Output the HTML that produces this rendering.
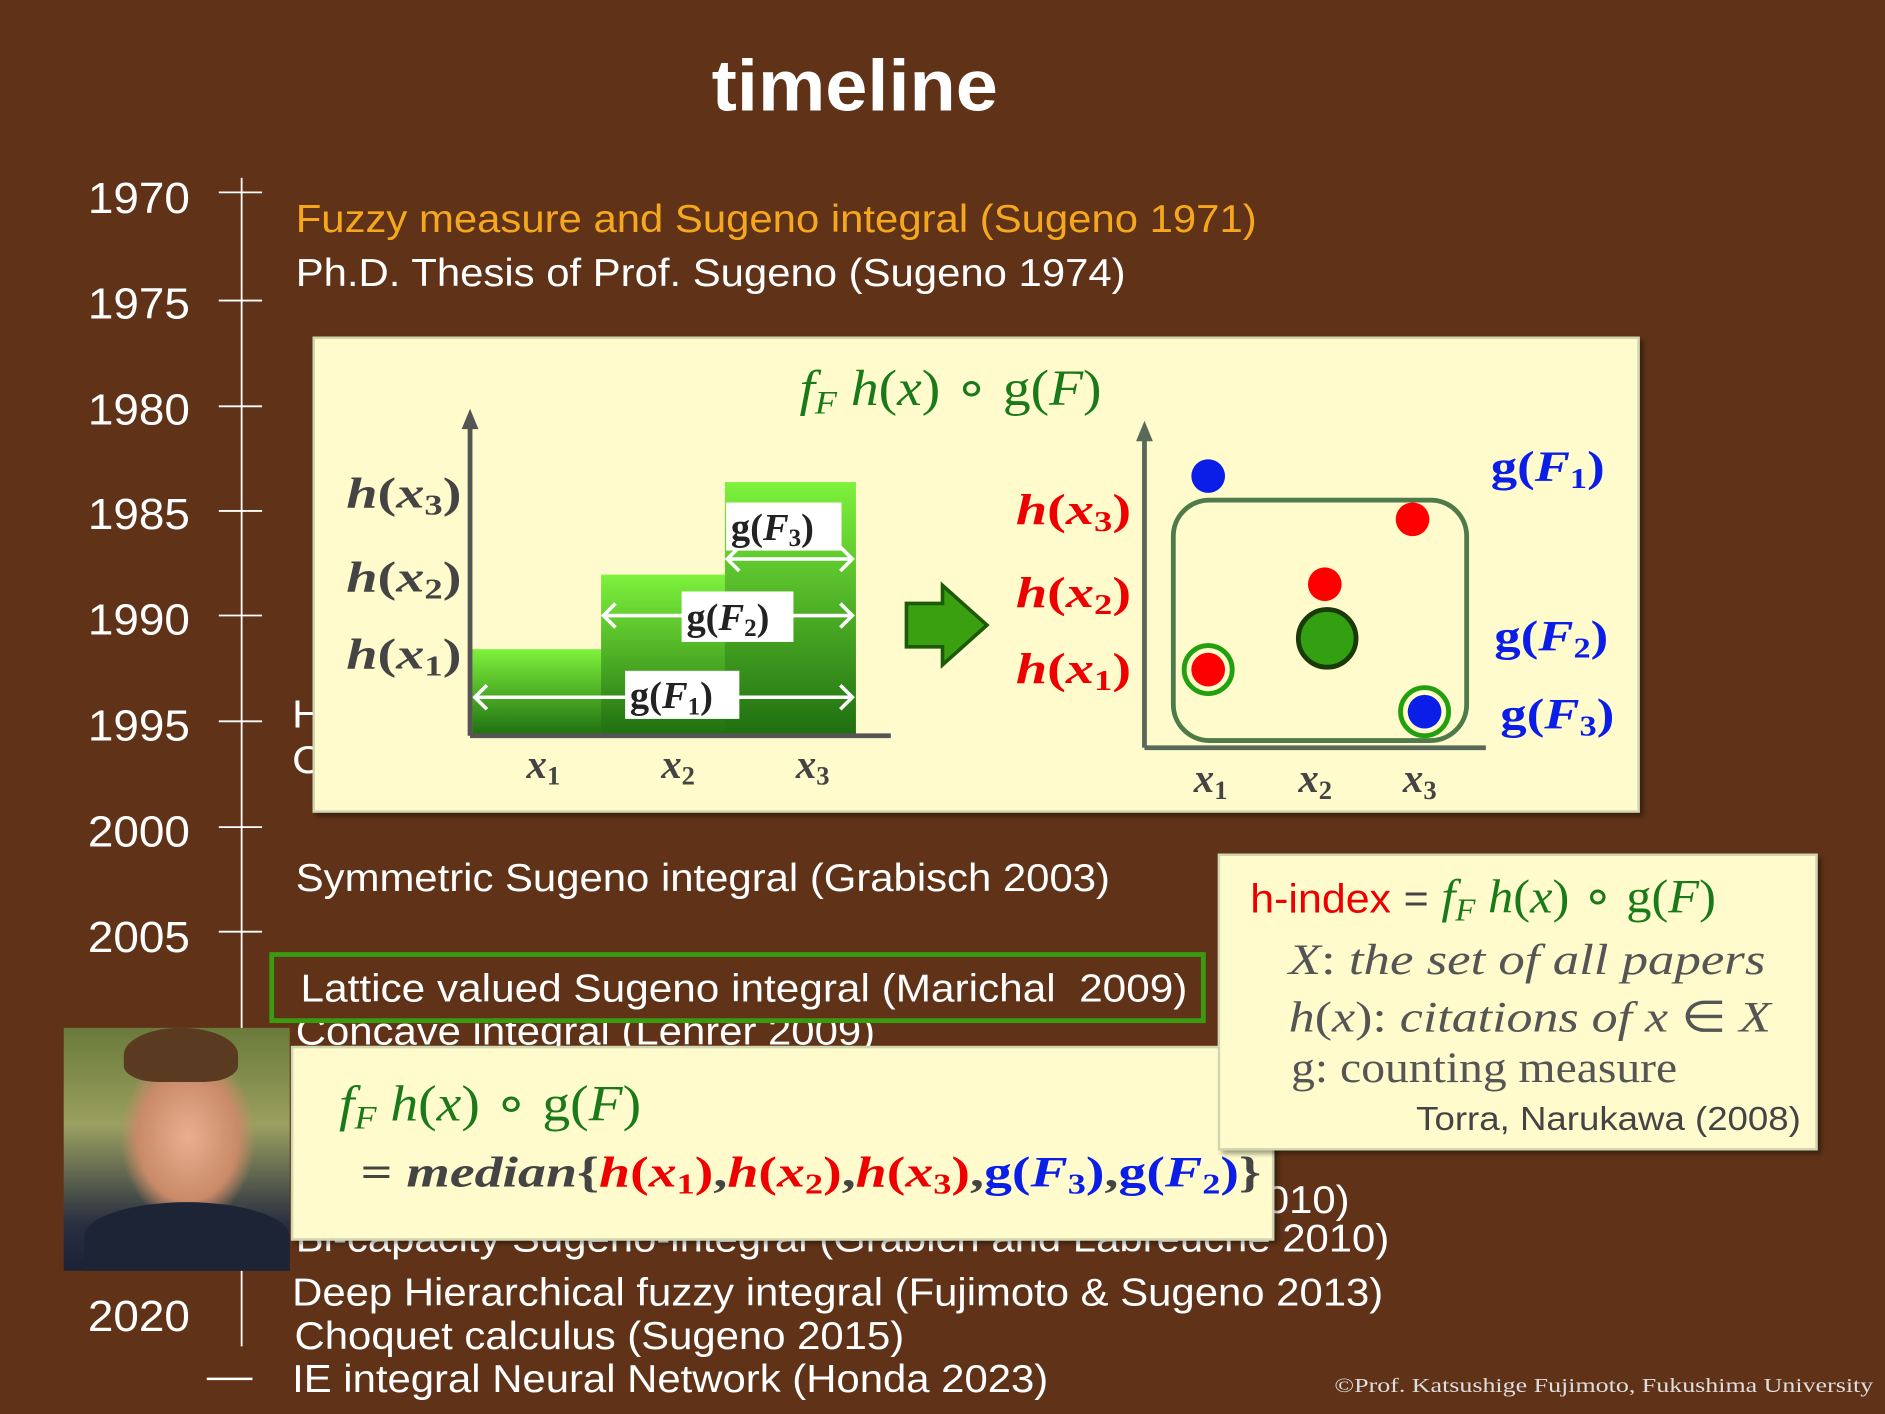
<!DOCTYPE html>
<html><head><meta charset="utf-8"><style>
html,body{margin:0;padding:0;background:#603318;}
body{width:1885px;height:1414px;overflow:hidden;position:relative;}
#s{position:absolute;left:0;top:0;width:1568px;height:1176px;transform:scale(1.20217);transform-origin:0 0;font-family:"Liberation Sans",sans-serif;}
.t{position:absolute;white-space:nowrap;color:#fff;font-size:32px;line-height:1;transform:scaleX(1.088);transform-origin:0 0;}
.y{position:absolute;color:#fff;font-size:36px;width:100px;text-align:right;left:58px;line-height:1;transform:scaleX(1.06);transform-origin:100% 0;}
.box{position:absolute;background:#fffbcc;border:2px solid #cfd6b0;box-shadow:3px 3px 4px rgba(0,0,0,.4);}
.m{position:absolute;white-space:nowrap;font-family:"Liberation Serif",serif;line-height:1;transform-origin:0 0;}
i{font-style:italic}
sub{font-size:65%;vertical-align:-0.25em}
</style></head><body><div id="s">
<div class="t" style="left:592px;top:42px;font-size:60px;font-weight:bold;transform:scaleX(1.05)">timeline</div>
<svg width="1568" height="1176" style="position:absolute;left:0;top:0">
<g stroke="#fff" stroke-width="1.5">
<line x1="201" y1="148" x2="201" y2="1120"/>
<line x1="182" y1="160" x2="218" y2="160"/><line x1="182" y1="250" x2="218" y2="250"/>
<line x1="182" y1="338" x2="218" y2="338"/><line x1="182" y1="425" x2="218" y2="425"/>
<line x1="182" y1="512" x2="218" y2="512"/><line x1="182" y1="600" x2="218" y2="600"/>
<line x1="182" y1="688" x2="218" y2="688"/><line x1="182" y1="775" x2="218" y2="775"/>
<line x1="172" y1="1147" x2="210" y2="1147" stroke-width="2"/>
</g></svg>
<div class="y" style="top:147px">1970</div><div class="y" style="top:235px">1975</div>
<div class="y" style="top:323px">1980</div><div class="y" style="top:410px">1985</div>
<div class="y" style="top:498px">1990</div><div class="y" style="top:586px">1995</div>
<div class="y" style="top:674px">2000</div><div class="y" style="top:762px">2005</div>
<div class="y" style="top:1077px">2020</div>
<div class="t" style="left:246px;top:166px;color:#f5a81e">Fuzzy measure and Sugeno integral (Sugeno 1971)</div>
<div class="t" style="left:246px;top:211px">Ph.D. Thesis of Prof. Sugeno (Sugeno 1974)</div>
<div class="t" style="left:243px;top:578px">H</div><div class="t" style="left:243px;top:616px">C</div>
<div class="t" style="left:246px;top:714px">Symmetric Sugeno integral (Grabisch 2003)</div>
<div class="t" style="left:246px;top:842px">Concave integral (Lehrer 2009)</div>
<div class="t" style="left:1022px;top:982px">(2010)</div>
<div class="t" style="left:246px;top:1014px">Bi-capacity Sugeno-integral  (Grabich and Labreuche 2010)</div>
<div class="t" style="left:243px;top:1059px">Deep Hierarchical fuzzy integral (Fujimoto &amp; Sugeno 2013)</div>
<div class="t" style="left:245px;top:1095px">Choquet calculus (Sugeno 2015)</div>
<div class="t" style="left:243px;top:1131px">IE integral Neural Network (Honda 2023)</div>
<div style="position:absolute;left:224px;top:792px;width:771px;height:51px;border:4px solid #3a9a10;background:#603318"></div>
<div class="t" style="left:250px;top:806px;transform:scaleX(1.1)">Lattice valued Sugeno integral (Marichal&nbsp; 2009)</div>
<div class="t" style="left:1110px;top:1144px;font-family:'Liberation Serif',serif;font-size:17px;color:#ddd;transform:scaleX(1.27)">©Prof. Katsushige Fujimoto, Fukushima University</div>

<div class="box" style="left:260px;top:280px;width:1100px;height:392px"></div>
<svg width="1568" height="1176" style="position:absolute;left:0;top:0">
<defs><linearGradient id="gg" x1="0" y1="0" x2="0" y2="1"><stop offset="0" stop-color="#7ef23c"/><stop offset="1" stop-color="#1f6e10"/></linearGradient></defs>
<rect x="393" y="540" width="108" height="72" fill="url(#gg)"/>
<rect x="500" y="478" width="105" height="134" fill="url(#gg)"/>
<rect x="603" y="401" width="109" height="211" fill="url(#gg)"/>
<g stroke="#fff" stroke-width="3" fill="none">
<path d="M395,580 H709 M405,570 L395,580 L405,590 M699,570 L709,580 L699,590"/>
<path d="M502,512 H709 M512,502 L502,512 L512,522 M699,502 L709,512 L699,522"/>
<path d="M605,465 H709 M615,455 L605,465 L615,475 M699,455 L709,465 L699,475"/>
</g>
<rect x="520" y="558" width="95" height="40" fill="#fff"/>
<rect x="567" y="492" width="93" height="42" fill="#fff"/>
<rect x="604" y="418" width="96" height="40" fill="#fff"/>
<g stroke="#555" stroke-width="4" fill="#555"><line x1="391" y1="612" x2="391" y2="355"/><line x1="391" y1="612" x2="741" y2="612"/></g>
<path d="M384,357 L391,340 L398,357Z" fill="#555"/>
<path d="M754,502 H784 V487 L821,520 L784,553 V538 H754Z" fill="#3aa010" stroke="#1a5a0a" stroke-width="3"/>
<g stroke="#5a6a5a" stroke-width="4"><line x1="952" y1="622" x2="952" y2="365"/><line x1="952" y1="622" x2="1236" y2="622"/></g>
<path d="M945,367 L952,350 L959,367Z" fill="#5a6a5a"/>
<rect x="976" y="416" width="244" height="200" rx="30" fill="none" stroke="#4f7a4a" stroke-width="4"/>
<circle cx="1005" cy="396" r="14" fill="#0a1ee8"/>
<circle cx="1175" cy="432" r="14" fill="#f00"/>
<circle cx="1102" cy="486" r="14" fill="#f00"/>
<circle cx="1104" cy="531" r="24" fill="#33a012" stroke="#1a3a0a" stroke-width="4"/>
<circle cx="1005" cy="557" r="20" fill="none" stroke="#22a010" stroke-width="4"/>
<circle cx="1005" cy="557" r="14" fill="#f00"/>
<circle cx="1185" cy="592" r="20" fill="none" stroke="#22a010" stroke-width="4"/>
<circle cx="1185" cy="592" r="14" fill="#0a1ee8"/>
</svg>
<div class="m" style="left:665px;top:303px;font-size:42px;color:#1a7a1a;transform:scaleX(1.1)"><i>f<sub>F</sub> h</i>(<i>x</i>) ∘ g(<i>F</i>)</div>
<div class="m" style="left:288px;top:392px;font-size:36px;color:#444;font-weight:bold;transform:scaleX(1.3)"><i>h</i>(<i>x</i><sub>3</sub>)</div>
<div class="m" style="left:288px;top:462px;font-size:36px;color:#444;font-weight:bold;transform:scaleX(1.3)"><i>h</i>(<i>x</i><sub>2</sub>)</div>
<div class="m" style="left:288px;top:526px;font-size:36px;color:#444;font-weight:bold;transform:scaleX(1.3)"><i>h</i>(<i>x</i><sub>1</sub>)</div>
<div class="m" style="left:524px;top:562px;font-size:32px;color:#222;font-weight:bold">g(<i>F</i><sub>1</sub>)</div>
<div class="m" style="left:571px;top:497px;font-size:32px;color:#222;font-weight:bold">g(<i>F</i><sub>2</sub>)</div>
<div class="m" style="left:608px;top:422px;font-size:32px;color:#222;font-weight:bold">g(<i>F</i><sub>3</sub>)</div>
<div class="m" style="left:438px;top:620px;font-size:34px;color:#444;font-weight:bold"><i>x</i><sub>1</sub></div>
<div class="m" style="left:550px;top:620px;font-size:34px;color:#444;font-weight:bold"><i>x</i><sub>2</sub></div>
<div class="m" style="left:662px;top:620px;font-size:34px;color:#444;font-weight:bold"><i>x</i><sub>3</sub></div>
<div class="m" style="left:845px;top:406px;font-size:36px;color:#e00;font-weight:bold;transform:scaleX(1.3)"><i>h</i>(<i>x</i><sub>3</sub>)</div>
<div class="m" style="left:845px;top:475px;font-size:36px;color:#e00;font-weight:bold;transform:scaleX(1.3)"><i>h</i>(<i>x</i><sub>2</sub>)</div>
<div class="m" style="left:845px;top:538px;font-size:36px;color:#e00;font-weight:bold;transform:scaleX(1.3)"><i>h</i>(<i>x</i><sub>1</sub>)</div>
<div class="m" style="left:1240px;top:370px;font-size:36px;color:#0a1ee8;font-weight:bold;transform:scaleX(1.22)">g(<i>F</i><sub>1</sub>)</div>
<div class="m" style="left:1243px;top:511px;font-size:36px;color:#0a1ee8;font-weight:bold;transform:scaleX(1.22)">g(<i>F</i><sub>2</sub>)</div>
<div class="m" style="left:1248px;top:576px;font-size:36px;color:#0a1ee8;font-weight:bold;transform:scaleX(1.22)">g(<i>F</i><sub>3</sub>)</div>
<div class="m" style="left:993px;top:632px;font-size:34px;color:#444;font-weight:bold"><i>x</i><sub>1</sub></div>
<div class="m" style="left:1080px;top:632px;font-size:34px;color:#444;font-weight:bold"><i>x</i><sub>2</sub></div>
<div class="m" style="left:1167px;top:632px;font-size:34px;color:#444;font-weight:bold"><i>x</i><sub>3</sub></div>

<div class="box" style="left:242px;top:870px;width:814px;height:158px"></div>
<div class="m" style="left:282px;top:898px;font-size:42px;color:#1a7a1a;transform:scaleX(1.1)"><i>f<sub>F</sub> h</i>(<i>x</i>) ∘ g(<i>F</i>)</div>
<div class="m" style="left:300px;top:957px;font-size:36px;color:#444;font-weight:bold;transform:scaleX(1.29)">= <i>median</i>{<span style="color:#e00"><i>h</i>(<i>x</i><sub>1</sub>)</span>,<span style="color:#e00"><i>h</i>(<i>x</i><sub>2</sub>)</span>,<span style="color:#e00"><i>h</i>(<i>x</i><sub>3</sub>)</span>,<span style="color:#0a1ee8">g(<i>F</i><sub>3</sub>)</span>,<span style="color:#0a1ee8">g(<i>F</i><sub>2</sub>)</span>}</div>
<div style="position:absolute;left:53px;top:855px;width:188px;height:202px;background:radial-gradient(ellipse 40% 48% at 55% 45%,#e8b090 0%,#c98a68 55%,transparent 75%),linear-gradient(#6a7a3a,#9aa060 40%,#2a3040 80%,#1a2238)"></div>
<div style="position:absolute;left:103px;top:855px;width:95px;height:45px;border-radius:50% 50% 30% 30%;background:#5a3a20"></div>
<div style="position:absolute;left:70px;top:1000px;width:171px;height:57px;border-radius:50% 50% 0 0;background:#1c2436"></div>

<div class="box" style="left:1013px;top:710px;width:495px;height:243px"></div>
<div class="m" style="left:1040px;top:726px;font-size:40px;color:#1a7a1a;transform:scaleX(1.05)"><span style="font-family:'Liberation Sans',sans-serif;color:#e00;font-size:34px">h-index</span> <span style="color:#444;font-family:'Liberation Sans',sans-serif;font-size:34px">=</span> <i>f<sub>F</sub> h</i>(<i>x</i>) ∘ g(<i>F</i>)</div>
<div class="m" style="left:1072px;top:780px;font-size:36px;color:#555;transform:scaleX(1.22)"><i>X</i>: <i>the set of all papers</i></div>
<div class="m" style="left:1072px;top:828px;font-size:36px;color:#555;transform:scaleX(1.2)"><i>h</i>(<i>x</i>): <i>citations of x</i> ∈ <i>X</i></div>
<div class="m" style="left:1074px;top:870px;font-size:36px;color:#555;transform:scaleX(1.1)">g: counting measure</div>
<div class="t" style="left:1178px;top:917px;font-size:28px;color:#444">Torra, Narukawa (2008)</div>
</div></body></html>
